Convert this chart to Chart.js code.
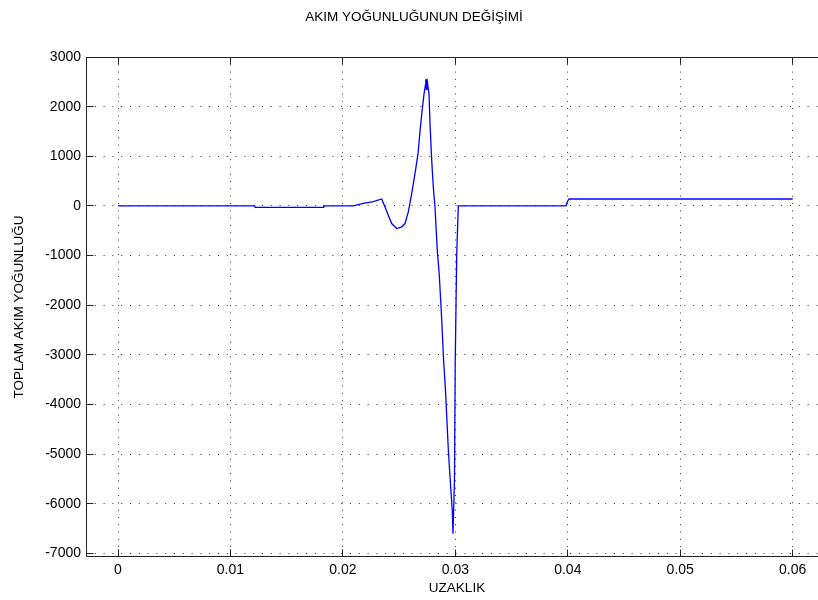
<!DOCTYPE html>
<html>
<head>
<meta charset="utf-8">
<script src="https://cdn.jsdelivr.net/npm/chart.js@4/dist/chart.umd.min.js"></script>
<style>
html, body { margin: 0; padding: 0; overflow: hidden; background: #fff; }
#wrap { width: 830px; height: 600px; }
</style>
</head>
<body>
<div id="wrap"><canvas id="c" width="830" height="600"></canvas></div>
<script>
// ---- data ----
const chartTitle = 'AKIM YOĞUNLUĞUNUN DEĞİŞİMİ';
const xAxisLabel = 'UZAKLIK';
const yAxisLabel = 'TOPLAM AKIM YOĞUNLUĞU';

const xValues = [0, 0.01215, 0.01220, 0.01825, 0.01830, 0.020925, 0.021814, 0.022703, 0.02345,
  0.023744, 0.024037, 0.024339, 0.024784, 0.025229, 0.025522, 0.025816, 0.026118, 0.026411,
  0.026678, 0.026856, 0.027034, 0.027212, 0.027346, 0.027372, 0.027425, 0.027479, 0.027657,
  0.027746, 0.027897, 0.028039, 0.02819, 0.028394, 0.028573, 0.028786, 0.028929, 0.029142,
  0.029373, 0.029524, 0.029729, 0.029791, 0.029924, 0.029987, 0.03012, 0.030262,
  0.03984, 0.03997, 0.04011, 0.06];
const yValues = [0, 0, -30, -30, 0, 0, 50, 85, 140,
  -20, -187, -354, -455, -420, -354, -120, 250, 650,
  1050, 1500, 1900, 2250, 2450, 2550, 2350, 2560, 2260,
  1657, 918, 382, -20, -890, -1400, -2275, -3000, -3800,
  -4900, -5450, -6150, -6600, -5500, -3200, -1000, 0,
  0, 90, 140, 140];

const xTicks = [0, 0.01, 0.02, 0.03, 0.04, 0.05, 0.06];
const xTickLabels = ['0', '0.01', '0.02', '0.03', '0.04', '0.05', '0.06'];
const yTicks = [3000, 2000, 1000, 0, -1000, -2000, -3000, -4000, -5000, -6000, -7000];
const yTickLabels = ['3000', '2000', '1000', '0', '-1000', '-2000', '-3000', '-4000', '-5000', '-6000', '-7000'];

// ---- chart ----
const points = xValues.map((x, i) => ({ x: x, y: yValues[i] }));
const FONT = "'Liberation Sans', Arial, Helvetica, sans-serif";

const boxPlugin = {
  id: 'box',
  afterDatasetsDraw(chart) {
    const { ctx, chartArea: a, scales: { x, y } } = chart;
    ctx.save();
    ctx.strokeStyle = '#222';
    ctx.lineWidth = 1;
    const L = a.left + 0.5, R = a.right - 0.5, T = a.top + 0.5, B = a.bottom - 0.5;
    ctx.beginPath();
    ctx.rect(L, T, R - L, B - T);
    ctx.stroke();
    ctx.beginPath();
    x.ticks.forEach(t => {
      const px = Math.round(x.getPixelForValue(t.value) - 0.5) + 0.5;
      ctx.moveTo(px, B); ctx.lineTo(px, B - 7);
      ctx.moveTo(px, T); ctx.lineTo(px, T + 7);
    });
    y.ticks.forEach(t => {
      const py = Math.round(y.getPixelForValue(t.value) - 0.5) + 0.5;
      ctx.moveTo(L, py); ctx.lineTo(L + 7, py);
      ctx.moveTo(R, py); ctx.lineTo(R - 7, py);
    });
    ctx.stroke();
    ctx.restore();
  }
};

new Chart(document.getElementById('c'), {
  type: 'line',
  data: {
    datasets: [{
      data: points,
      borderColor: '#0000ff',
      borderWidth: 1.3,
      pointRadius: 0,
      fill: false,
      tension: 0
    }]
  },
  options: {
    responsive: false,
    animation: false,
    events: [],
    layout: { padding: { top: 0, right: 2, bottom: 0, left: 0 } },
    plugins: {
      legend: { display: false },
      tooltip: { enabled: false },
      title: {
        display: true,
        text: chartTitle,
        color: '#000',
        font: { family: FONT, size: 13.5, weight: 'normal' },
        padding: { top: 9, bottom: 31.8 }
      }
    },
    scales: {
      x: {
        type: 'linear',
        min: -0.002846,
        max: 0.06314,
        afterBuildTicks: s => { s.ticks = xTicks.map(v => ({ value: v })); },
        afterFit: s => { s.height = 43; s.paddingLeft = 0; s.paddingRight = 0; s.paddingTop = 0; s.paddingBottom = 0; },
        ticks: {
          color: '#000',
          font: { family: FONT, size: 14 },
          padding: 4.6,
          maxRotation: 0,
          callback: (v) => { const i = xTicks.indexOf(v); return i >= 0 ? xTickLabels[i] : ''; }
        },
        grid: { color: 'rgba(0,0,0,0.8)', lineWidth: 1, drawTicks: false },
        border: { display: false, dash: [1, 6.3] },
        title: {
          display: true, text: xAxisLabel, color: '#000',
          font: { family: FONT, size: 13.5 },
          padding: { top: 0, bottom: 4 }
        }
      },
      y: {
        type: 'linear',
        min: -7070,
        max: 3000,
        afterBuildTicks: s => { s.ticks = yTicks.map(v => ({ value: v })); },
        afterFit: s => { s.width = 86; s.paddingLeft = 0; s.paddingRight = 0; s.paddingTop = 0; s.paddingBottom = 0; },
        ticks: {
          color: '#000',
          font: { family: FONT, size: 14 },
          padding: 5,
          callback: (v) => { const i = yTicks.indexOf(v); return i >= 0 ? yTickLabels[i] : ''; }
        },
        grid: { color: 'rgba(0,0,0,0.8)', lineWidth: 1, drawTicks: false },
        border: { display: false, dash: [1, 7.8] },
        title: {
          display: true, text: yAxisLabel, color: '#000',
          font: { family: FONT, size: 13.5 },
          padding: { top: 11, bottom: 0 }
        }
      }
    }
  },
  plugins: [boxPlugin]
});
</script>
</body>
</html>
